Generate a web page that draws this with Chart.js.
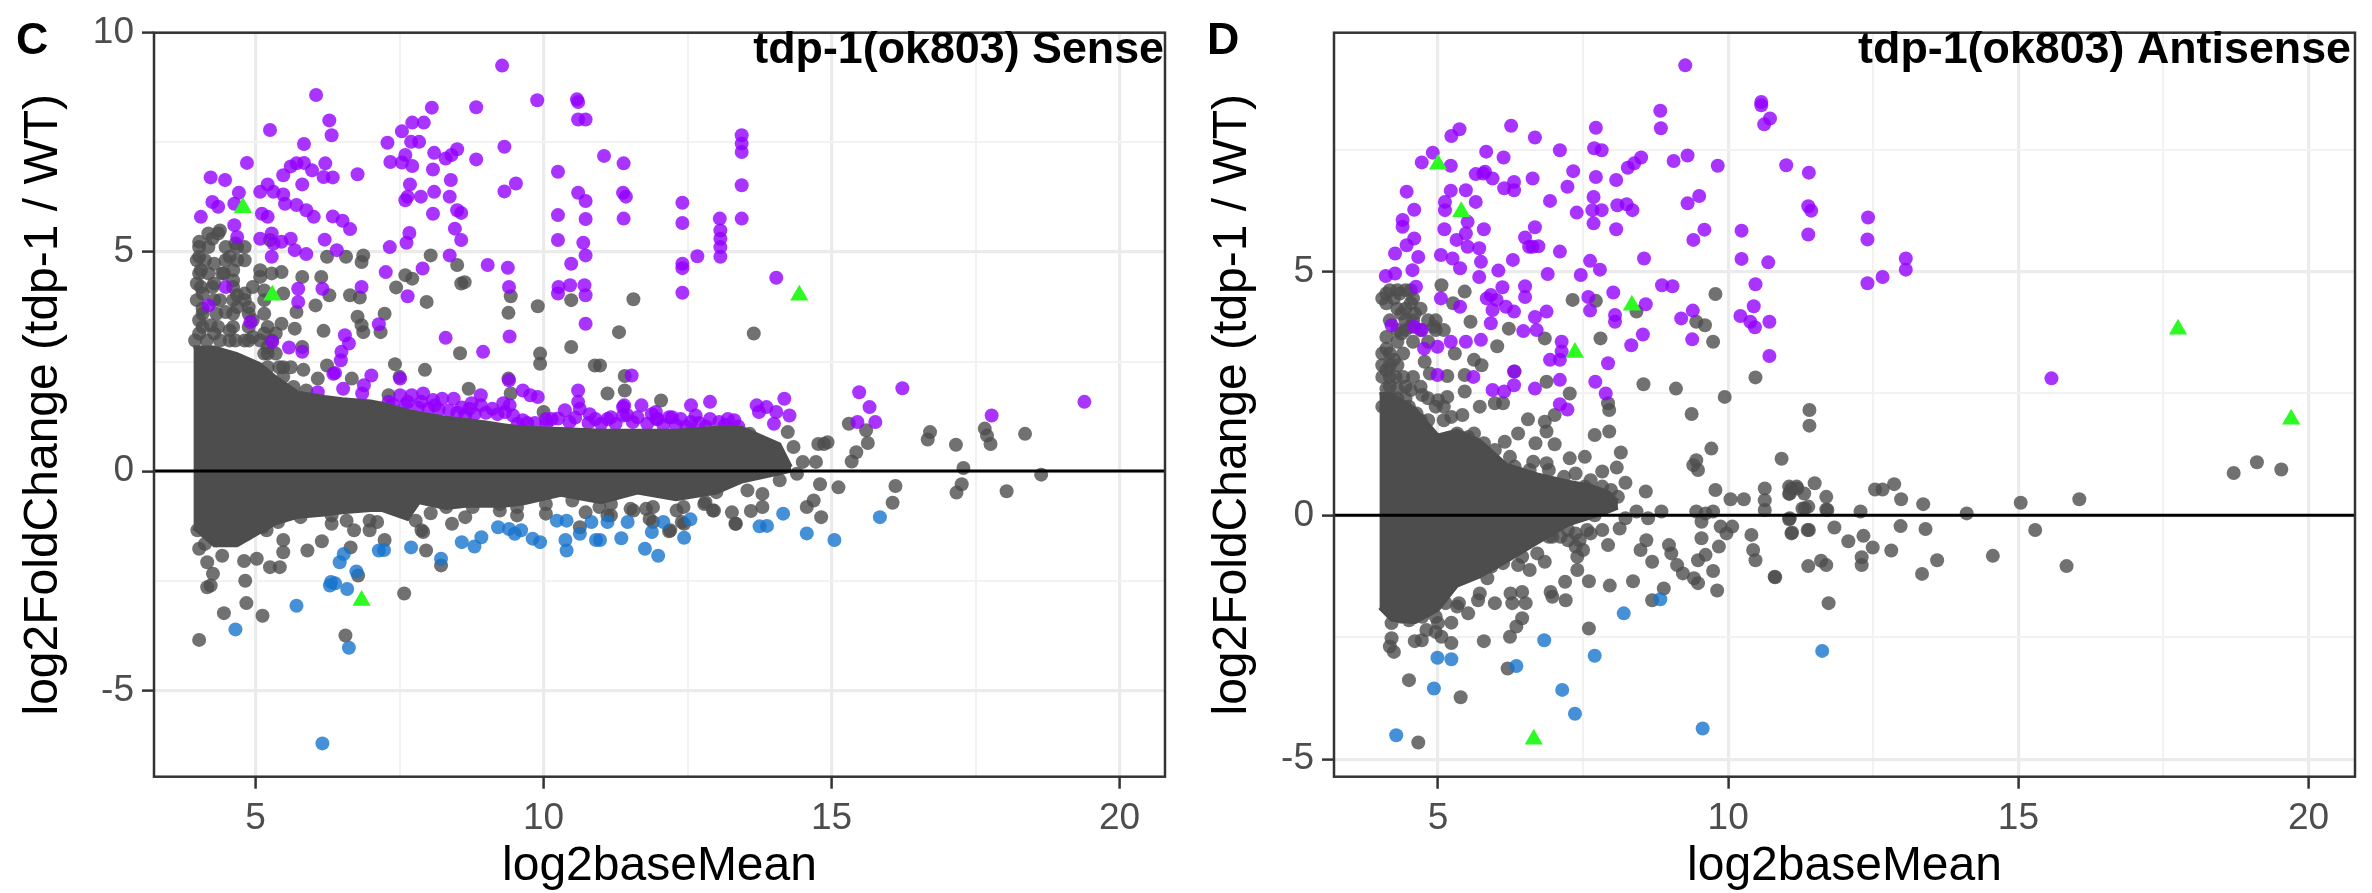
<!DOCTYPE html>
<html lang="en">
<head>
  <meta charset="UTF-8">
  <title>tdp-1(ok803) MA plots</title>
  <script src="https://cdn.jsdelivr.net/npm/chart.js"></script>
  <style>
    body { margin: 0; background: #fff; }
    #panelC, #panelD { position: absolute; top: 0; width: 1186px; height: 893px; }
    #panelC { left: 0; }
    #panelD { left: 1186px; }
  </style>
</head>
<body>
  <div id="panelC"><canvas id="senseChart" width="1186" height="893"></canvas></div>
  <div id="panelD"><canvas id="antisenseChart" width="1186" height="893"></canvas></div>

  <script>
    // all values are [log2baseMean, log2FoldChange]

    // panel C, purple points
    const senseUp = [
      [9.28,9.25],[6.05,8.58],[9.89,8.46],[10.58,8.48],[10.6,8.42],[10.6,8.02],[10.73,8.02],[8.06,8.29],[8.83,8.3],
      [6.28,8.0],[6.32,7.66],[5.25,7.78],[7.54,7.75],[7.72,7.95],[7.92,7.95],[7.29,7.49],[7.7,7.51],[7.84,7.51],
      [9.32,7.4],[5.84,7.46],[8.1,7.26],[8.5,7.34],[8.4,7.21],[8.3,7.13],[8.83,7.11],[7.6,7.21],[7.34,7.05],[7.54,7.04],
      [7.72,6.96],[8.08,6.88],[10.25,6.83],[4.85,7.03],[5.71,7.02],[5.84,7.03],[6.21,7.02],[5.61,6.95],[5.98,6.86],
      [6.77,6.77],[6.34,6.7],[6.18,6.71],[5.48,6.75],[4.22,6.7],[4.47,6.64],[5.81,6.54],[5.21,6.54],[8.39,6.64],
      [9.52,6.56],[9.32,6.38],[7.68,6.54],[7.64,6.26],[7.87,6.26],[8.1,6.37],[7.6,6.18],[8.37,6.26],[10.6,6.35],[10.73,6.16],
      [4.71,6.35],[5.08,6.37],[5.31,6.37],[5.48,6.31],[5.51,6.1],[4.25,6.14],[4.35,6.03],[4.63,6.1],[5.71,6.07],[5.88,5.95],
      [6.01,5.8],[5.11,5.87],[5.21,5.8],[4.05,5.8],[6.34,5.81],[6.51,5.71],[6.64,5.52],[8.5,5.95],[8.57,5.89],[8.08,5.87],
      [10.25,5.84],[10.73,5.75],[8.46,5.53],[8.57,5.27],[7.67,5.43],[7.62,5.21],[10.25,5.27],[10.69,5.21],[10.73,4.92],
      [4.63,5.61],[4.68,5.34],[5.08,5.3],[5.28,5.42],[5.31,5.19],[5.45,5.23],[5.61,5.3],[5.28,4.89],[5.68,5.04],[5.88,4.95],
      [6.2,5.28],[6.41,5.04],[7.33,5.11],[8.37,4.92],[9.03,4.7],[9.38,4.64],[10.48,4.73],[7.9,4.62],[7.26,4.54],[9.4,4.2],
      [7.64,3.99],[10.26,4.2],[10.46,4.24],[10.71,4.24],[10.25,4.05],[10.73,4.01],[6.84,4.2],[5.74,4.16],[5.74,3.86],
      [6.16,4.16],[4.48,4.2],[4.18,3.78],[10.73,3.36],[7.14,3.35],[4.91,3.4],[9.41,3.07],[8.3,3.04],[6.55,3.1],[6.62,2.91],
      [6.49,2.72],[6.48,2.53],[5.29,2.95],[5.58,2.82],[5.81,2.72],[8.95,2.72],[6.38,2.24],
      [6.08,1.8],[6.52,1.88],[6.88,1.96],[7.01,2.18],[6.85,1.77],[6.35,2.22],[7.51,2.11],[7.51,1.73],[7.71,1.73],[7.91,1.77],
      [7.64,1.58],[7.88,1.58],[7.31,1.58],[8.24,1.65],[8.44,1.65],[8.11,1.5],[8.91,1.73],[8.71,1.42],[8.91,1.5],[9.11,1.42],
      [8.64,1.27],[9.41,1.5],[9.47,1.27],[9.64,1.84],[9.9,1.69],[9.77,1.73],[9.64,1.16],[10.04,1.19],[10.37,1.39],[10.14,1.19],
      [10.63,1.42],[10.6,1.84],[10.6,1.58],[10.9,1.19],[11.17,1.23],[11.4,1.5],[11.7,1.5],[11.63,1.23],[11.96,1.19],[12.23,1.23],
      [12.56,1.5],[12.89,1.58],[12.56,1.12],[12.89,1.19],[13.2,1.19],[11.53,2.18],[9.4,2.07],
      [11.38,1.46],[11.11,1.19],[11.38,1.27],[11.98,1.19],[12.18,1.23],[12.38,1.19],[12.64,1.27],[13.31,1.16],
      [13.7,1.5],[13.74,1.35],[13.87,1.46],[14.18,1.65],[14.27,1.27],[14.04,1.35],[14.0,1.08],
      [15.48,1.8],[15.66,1.46],[15.76,1.12],[15.45,1.12],[16.23,1.89],[17.78,1.27],[19.39,1.58],
      [11.05,7.19],[11.39,7.02],[11.38,6.35],[11.43,6.26],[11.39,5.76],[12.41,6.12],[12.41,5.66],[13.06,5.76],[13.07,5.49],
      [13.07,5.3],[13.07,5.11],[13.07,4.89],[12.67,4.9],[12.41,4.73],[12.41,4.63],[12.41,4.07],[13.44,7.66],[13.44,7.47],
      [13.44,7.28],[13.44,6.52],[13.44,5.76],[14.04,4.41],
      [7.38,1.52],[7.6,1.5],[7.82,1.45],[8.0,1.42],[8.18,1.4],[8.36,1.38],[8.5,1.33],[8.58,1.45],[8.8,1.3],[9.0,1.33],[9.2,1.3],
      [9.33,1.35],[9.55,1.08],[9.72,1.1],[9.85,1.1],[10.05,1.08],[10.25,1.2],[10.45,1.12],[10.55,1.22],[10.78,1.1],[11.0,1.08],
      [11.25,1.08],[11.45,1.28],[11.55,1.12],[11.8,1.08],[11.88,1.3],[12.08,1.05],[12.3,1.05],[12.48,1.02],[12.7,1.1],[12.82,1.02],
      [13.05,1.12],[13.15,1.05],[13.38,1.02],[8.08,1.62],[8.75,1.55],[9.3,1.55],[10.8,1.3],[11.95,1.35]
    ];

    // panel C, blue points
    const senseDown = [
      [6.16,-6.21],[6.62,-4.03],[4.65,-3.61],[5.71,-3.07],[6.31,-2.53],[6.38,-2.56],[6.29,-2.61],[6.59,-2.69],[6.75,-2.29],
      [6.46,-2.08],[6.53,-1.89],[7.14,-1.81],[7.23,-1.8],[7.7,-1.74],[8.22,-2.0],[8.58,-1.62],[8.8,-1.72],[8.92,-1.51],
      [9.21,-1.28],[9.4,-1.32],[9.5,-1.43],[9.61,-1.35],[9.81,-1.54],[9.94,-1.62],[10.23,-1.13],[10.4,-1.13],[10.38,-1.57],
      [10.4,-1.81],[10.63,-1.43],[10.83,-1.16],[10.91,-1.57],[11.11,-1.16],[11.46,-1.16],[10.98,-1.57],[11.35,-1.53],
      [11.88,-1.39],[12.08,-1.16],[11.76,-1.77],[11.99,-1.93],[12.44,-1.52],[12.55,-1.1],[13.75,-1.26],[13.88,-1.25],
      [14.16,-0.97],[14.57,-1.42],[15.05,-1.57],[15.84,-1.05]
    ];

    // panel C, green triangles
    const senseMarked = [[4.78,6.01],[5.29,4.01],[6.84,-2.95],[14.44,4.01]];

    // panel C, grey points that stand apart from the solid mass
    const senseOther = [
      [4.02,5.23],[4.25,5.3],[4.38,5.49],[4.65,5.19],[4.81,5.11],[4.02,4.89],[4.05,4.58],[4.55,4.89],[4.61,4.58],[5.08,4.43],
      [5.25,5.27],[5.45,4.54],[5.81,4.43],[6.14,4.43],[6.24,4.89],[6.57,4.89],[6.87,4.92],[6.84,4.77],[8.04,4.92],[8.5,4.7],
      [7.6,4.47],[7.72,4.39],[7.44,4.19],[8.57,4.28],[8.63,4.31],[7.97,3.86],[9.9,3.76],[10.48,3.9],[9.43,3.99],[9.39,3.61],
      [6.64,4.01],[6.81,3.96],[6.28,4.01],[6.04,3.78],[5.71,3.63],[5.48,4.05],[5.15,4.12],[4.68,4.01],[4.08,3.71],[4.48,3.63],
      [4.68,3.74],[4.22,3.33],[4.55,3.21],[5.45,3.36],[5.68,3.25],[6.77,3.52],[6.84,3.33],[6.87,3.17],[7.24,3.59],[7.17,3.17],
      [6.18,3.2],[4.95,3.06],[5.81,2.83],[10.48,2.83],[9.94,2.68],[9.94,2.45],[10.89,2.41],[8.55,2.69],[7.42,2.44],[7.94,2.31],
      [5.83,2.31],[6.24,2.41],[6.08,2.11],[5.66,1.92],[6.67,2.11],[7.5,2.15],[8.7,1.88],[9.39,2.11],[9.43,1.77],[10.0,1.35],
      [7.31,1.73],[5.21,2.83],[11.56,3.92],[11.31,3.17],[13.65,3.14],[10.98,2.41],[11.41,2.17],[11.41,1.84],[11.11,1.77],[12.04,1.61],
      [3.98,4.28],[4.08,4.05],[3.98,3.9],[4.02,3.44],[4.28,4.28],[4.38,3.9],[4.02,3.14],[4.28,3.14],[4.55,2.98],[4.81,2.98],
      [4.95,3.44],[5.15,3.14],[5.35,3.14],[5.21,2.68],[5.48,2.37],[4.81,4.05],[4.28,4.73],[4.45,4.51],[4.81,4.81],[5.08,4.58],
      [4.61,4.35],[4.88,3.74],
      [4.18,5.42],[4.35,5.42],[4.02,5.11],[4.18,5.11],[4.48,5.11],[4.68,5.11],[3.98,4.81],[4.12,4.81],[4.48,4.81],[4.68,4.81],
      [4.02,4.51],[4.18,4.51],[4.42,4.51],[5.28,4.51],[4.05,4.2],[4.25,4.2],[4.61,4.2],[4.95,4.2],[4.28,3.9],[4.61,3.9],[4.81,3.9],
      [5.15,3.9],[4.08,3.59],[4.32,3.59],[4.61,3.59],[4.88,3.59],[5.15,3.59],[4.08,3.29],[4.35,3.29],[4.61,3.29],[4.88,3.29],[5.21,3.29],
      [3.95,2.98],[4.15,2.98],[4.38,2.98],[4.65,2.98],[4.88,2.98],[5.08,2.98],[5.28,2.98],[5.15,2.68],[5.35,2.68],[5.21,2.37],
      [5.41,2.37],[5.61,2.37],[5.48,2.15],[5.48,1.84],[5.88,1.84],
      [15.3,1.08],[15.6,0.93],[15.63,0.64],[15.43,0.43],[15.35,0.22],[16.71,0.89],[16.67,0.72],[17.16,0.6],[17.66,0.97],[17.7,0.81],
      [17.76,0.62],[18.36,0.85],[17.29,0.07],[18.64,-0.08],[17.26,-0.3],[17.17,-0.49],[18.04,-0.46],[16.11,-0.34],[16.06,-0.72],
      [14.8,-0.3],[15.12,-0.37],[14.82,-1.05],[14.57,-0.82],[14.69,-0.67],[14.87,0.62],[14.77,0.62],[14.93,0.66],[14.73,0.21],
      [14.5,0.21],[14.34,0.55],[14.24,0.89],[13.58,0.85],[14.1,-0.21],[14.4,-0.06],[13.8,-0.52],[13.54,-0.44],[13.8,-0.82],[13.6,-0.91],
      [13.34,-1.2],[13.27,-0.94],[12.94,-0.9],[12.81,-0.71],[13.0,-0.48],[12.44,-1.2],[12.18,-1.37],[12.31,-0.9],[11.84,-1.09],
      [11.51,-0.86],[11.11,-1.01],[11.78,-0.86],
      [4.02,-1.77],[4.16,-2.08],[4.26,-2.34],[4.22,-2.61],[4.16,-2.65],[4.42,-1.93],[4.8,-2.05],[5.02,-2.0],[5.25,-2.19],[5.42,-2.19],
      [5.48,-1.57],[5.48,-1.85],[4.82,-2.5],[4.84,-3.01],[4.45,-3.24],[5.12,-3.3],[5.9,-1.81],[6.15,-1.6],[5.19,-1.35],[6.32,-1.2],
      [7.11,-1.16],[6.65,-1.74],[7.24,-1.57],[6.98,-1.35],[6.78,-2.38],[7.58,-2.79],[7.96,-1.81],[7.91,-1.39],[8.04,-0.96],[8.22,-2.15],
      [8.41,-1.2],[8.64,-1.05],[9.24,-0.9],[9.54,-1.01],[10.04,-0.97],[11.17,-1.01],[10.63,-1.28],[10.73,-0.94],[11.56,-0.9],
      [11.9,-1.16],[12.2,-1.35],[12.4,-1.16],[12.79,-0.75],[12.96,-0.9],[13.33,-1.2],[6.56,-3.75],[4.02,-3.85],
      [3.99,-1.35],[4.12,-1.66],[4.32,-1.58],[4.59,-1.51],[4.85,-1.43],[5.12,-1.28],[5.39,-1.16],[5.78,-1.05],[6.32,-1.01],[6.58,-1.13],
      [6.71,-1.35],[6.98,-1.13],[7.51,-0.9],[7.78,-1.13],[7.88,-1.35],[8.31,-0.82],[8.77,-0.82],[9.24,-0.75],[9.54,-0.82],[10.04,-0.75],
      [10.5,-0.67],[10.97,-0.82],[11.17,-0.75],[11.9,-0.82],[12.43,-0.82]
    ];

    // panel C, outline of the mass where the grey points merge into solid colour
    const senseMassX = [3.92,4.28,4.68,5.08,5.35,5.74,6.2,6.5,7.0,7.2,7.64,7.84,8.3,8.65,9.0,9.3,9.64,10.3,11.0,11.63,12.3,13.0,13.44,14.1,14.3];
    const senseMassTop = [2.83,2.83,2.68,2.45,2.15,1.8,1.7,1.65,1.6,1.55,1.39,1.33,1.23,1.18,1.12,1.06,1.0,0.97,0.93,0.93,0.93,1.0,1.0,0.62,0.1];
    const senseMassBottom = [-1.3,-1.7,-1.7,-1.4,-1.2,-1.05,-1.0,-0.95,-0.9,-0.9,-1.1,-0.72,-0.85,-0.8,-0.8,-0.8,-0.75,-0.55,-0.72,-0.5,-0.65,-0.5,-0.25,-0.06,0.0];

    // panel D, purple points
    const antisenseUp = [
      [9.26,9.23],[10.57,8.48],[10.57,8.41],[10.72,8.14],[10.62,8.02],[8.83,8.3],[8.84,7.94],[6.26,7.99],[5.37,7.92],[5.23,7.78],
      [6.67,7.75],[7.72,7.95],[7.69,7.53],[7.82,7.49],[4.91,7.44],[4.72,7.24],[5.22,7.17],[5.83,7.46],[6.13,7.34],[7.1,7.49],
      [8.5,7.34],[8.38,7.22],[8.27,7.13],[9.06,7.27],[9.3,7.38],[9.82,7.17],[11.0,7.18],[5.65,7.0],[5.81,7.05],[5.94,6.91],[5.78,7.01],
      [6.14,6.71],[6.31,6.84],[6.31,6.67],[6.63,6.91],[7.33,7.06],[7.23,6.74],[7.72,6.94],[8.07,6.88],[4.46,6.64],[4.59,6.27],
      [5.22,6.66],[5.48,6.67],[5.12,6.43],[5.12,6.26],[5.65,6.43],[6.93,6.45],[7.68,6.53],[7.66,6.26],[7.39,6.21],[7.82,6.26],
      [8.09,6.36],[8.25,6.38],[8.35,6.26],[7.68,5.99],[9.5,6.55],[9.3,6.4],[8.07,5.87],[4.39,6.06],[4.39,5.92],[5.11,5.87],[5.79,5.87],
      [5.51,6.02],[5.48,5.78],[6.67,5.91],[6.5,5.7],[6.63,5.51],[6.73,5.52],[6.57,5.51],[9.59,5.86],[9.4,5.65],[10.23,5.84],[4.59,5.68],
      [4.46,5.54],[4.26,5.37],[5.32,5.65],[5.51,5.51],[5.71,5.48],[5.74,5.2],[5.05,5.34],[5.25,5.27],[5.38,5.07],[5.71,4.89],[4.66,5.3],
      [7.1,5.41],[6.29,5.24],[6.04,5.02],[7.62,5.22],[7.79,5.04],[7.46,4.93],[6.89,4.95],[8.55,5.27],[10.23,5.26],[10.69,5.19],[4.1,4.91],
      [4.26,4.96],[4.56,5.03],[4.62,4.69],[8.86,4.72],[9.04,4.7],[10.47,4.74],[6.5,4.7],[6.5,4.48],[6.11,4.68],[5.91,4.52],[6.01,4.42],
      [5.84,4.45],[5.05,4.45],[5.38,4.28],[8.02,4.57],[7.59,4.48],[7.62,4.2],[8.58,4.33],[10.44,4.29],[10.21,4.09],[10.38,3.97],[10.46,3.86],
      [10.71,3.97],[5.94,4.21],[6.17,4.28],[6.31,4.18],[5.91,3.94],[6.87,4.18],[6.67,4.07],[6.47,3.78],[6.7,3.8],[8.05,4.11],[8.05,3.97],
      [9.19,4.04],[9.39,4.2],[8.53,3.71],[8.33,3.49],[9.38,3.61],[4.2,3.9],[4.59,3.87],[4.72,3.8],[7.13,3.56],[7.13,3.36],[6.93,3.19],[7.1,3.19],
      [7.93,3.12],[10.71,3.27],[5.74,3.6],[5.48,3.56],[5.22,3.56],[4.99,3.46],[4.76,3.42],[7.71,2.74],[7.89,2.5],[6.67,2.6],[6.31,2.67],
      [6.14,2.54],[5.94,2.57],[7.1,2.78],[7.1,2.28],[7.23,2.17],[5.61,2.84],[4.99,2.88],[6.31,2.95],
      [11.39,7.03],[11.38,6.34],[11.43,6.25],[11.38,5.76],[12.41,6.11],[12.4,5.66],[13.06,5.27],[13.06,5.04],[12.4,4.76],[12.66,4.89],[15.57,2.81]
    ];

    // panel D, blue points
    const antisenseDown = [
      [4.28,-4.51],[4.93,-3.55],[4.99,-2.92],[5.23,-2.95],[6.35,-3.09],[6.83,-2.56],[7.14,-3.58],[7.36,-4.07],[7.7,-2.88],
      [8.2,-2.01],[8.83,-1.72],[9.56,-4.37],[11.62,-2.78]
    ];

    // panel D, green triangles
    const antisenseMarked = [[5.0,7.2],[5.4,6.23],[8.34,4.31],[7.36,3.34],[6.65,-4.59],[17.75,3.82],[19.7,1.97]];

    // panel D, grey points that stand apart from the solid mass
    const antisenseOther = [
      [4.11,4.55],[4.11,4.35],[4.34,4.55],[4.53,4.62],[4.53,4.35],[4.37,4.14],[4.6,4.14],[4.53,3.87],[4.37,3.73],[4.11,3.66],[4.11,3.42],
      [4.24,3.19],[4.11,2.98],[4.27,2.84],[4.11,2.6],[4.3,2.6],[4.53,2.57],[4.73,2.47],[4.11,2.19],[4.5,2.23],[4.63,2.09],[4.27,2.09],
      [4.17,4.62],[4.3,4.62],[4.44,4.62],[4.04,4.45],[4.24,4.45],[4.57,4.45],[4.3,4.24],[4.44,4.24],[4.7,4.24],[4.17,4.0],[4.44,4.0],
      [4.57,4.0],[4.83,4.0],[4.96,4.0],[4.3,3.8],[4.44,3.8],[4.7,3.8],[4.96,3.8],[5.1,3.8],[4.3,3.56],[4.57,3.56],[4.83,3.56],[4.04,3.32],
      [4.17,3.32],[4.4,3.32],[4.04,3.08],[4.17,3.08],[4.3,3.08],[4.04,2.84],[4.17,2.84],[4.4,2.84],[4.57,2.84],[4.17,2.64],[4.44,2.64],
      [4.7,2.64],[4.3,2.4],[4.44,2.4],[4.83,2.4],[4.04,2.23],[4.3,2.23],[4.96,2.23],[5.1,2.23],[4.44,1.95],[4.7,1.95],[4.83,1.95],[5.1,1.95],
      [5.52,1.61],[5.79,1.48],[5.98,1.34],[5.39,1.48],[6.32,1.0],[6.58,0.93],[6.91,0.93],[7.17,0.79],[7.37,0.86],[7.63,0.72],[7.83,0.59],[7.9,0.38],[8.1,0.38],
      [7.24,-0.3],[7.37,-0.37],[7.11,-0.44],[7.57,-0.3],[7.83,-0.3],[7.44,-0.51],[7.63,-0.37],[7.24,-0.51],[6.97,-0.44],[6.71,-0.78],[6.45,-0.85],
      [6.12,-0.98],[5.92,-1.05],[5.52,-1.19],[5.26,-1.33],[5.13,-1.46],[4.2,-1.94],[4.37,-2.08],[4.6,-2.08],[4.8,-2.35],[4.93,-1.8],[5.13,-1.8],[5.0,-2.21],
      [5.06,4.72],[5.46,4.59],[5.26,4.35],[5.56,3.97],[4.93,3.87],[5.29,3.32],[5.62,3.19],[5.75,3.08],[4.77,3.15],[4.86,2.91],[5.16,2.86],
      [5.46,2.88],[6.02,3.47],[6.22,3.83],[6.84,3.63],[6.32,2.95],[6.87,2.74],[5.46,2.54],[5.16,2.43],[5.0,2.36],[5.72,2.23],[5.98,2.3],
      [6.12,2.3],[5.42,2.06],[5.23,2.02],[7.27,2.5],[7.01,2.06],[6.55,1.97],[6.84,1.92],[6.87,1.72],[6.38,1.68],[6.15,1.51],[6.68,1.48],
      [7.01,1.46],[5.62,1.68],[5.33,1.68],[6.24,1.2],[6.64,1.1],[6.87,1.07],[7.27,1.17],[7.53,1.2],[7.7,1.65],[7.95,1.72],[8.15,1.29],
      [8.08,0.98],[7.83,0.9],[8.23,0.67],[8.58,0.49],[7.98,0.52],[7.32,4.42],[7.72,4.4],[8.42,4.18],[7.8,3.63],[8.54,2.69],[9.1,2.6],
      [9.94,2.43],[9.37,2.08],[9.78,4.54],[9.45,3.97],[9.6,3.9],[9.74,3.56],[10.47,2.83],[9.71,1.37],[9.45,1.13],[9.4,1.03],[9.48,0.93],
      [10.92,1.16],[11.4,2.16],[11.4,1.84],[7.95,2.16],[7.93,2.3],[9.78,0.52],[10.04,0.33],[10.27,0.33],[10.63,0.55],[10.63,0.31],[10.63,0.11],
      [11.09,0.55],[11.19,0.55],[11.49,0.66],[11.69,0.38],[11.69,0.12],[11.32,0.14],[11.06,0.45],[12.28,0.08],
      [11.05,0.59],[11.18,0.59],[11.31,0.45],[11.05,0.44],[11.38,0.18],[11.28,0.14],[11.71,0.11],[12.53,0.53],[12.66,0.53],[12.86,0.64],
      [12.98,0.33],[13.36,0.23],[14.11,0.04],[15.04,0.26],[16.05,0.33],[18.71,0.87],[19.11,1.09],[19.53,0.94],[11.05,-0.08],[11.1,-0.35],
      [11.37,-0.3],[11.83,-0.25],[12.97,-0.22],[13.4,-0.28],[12.07,-0.53],[12.33,-0.42],[12.49,-0.66],[12.81,-0.72],[12.3,-0.86],[12.3,-1.02],
      [13.6,-0.92],[13.34,-1.2],[14.56,-0.83],[15.29,-0.3],[15.83,-1.04],[11.38,-1.04],[11.6,-0.93],[11.69,-1.02],[10.81,-1.27],[11.73,-1.8],
      [8.42,0.08],[8.85,0.08],[9.45,0.08],[9.61,0.04],[9.74,0.08],[8.62,-0.06],[9.54,-0.13],[8.13,-0.27],[8.23,-0.06],[9.87,-0.23],[10.07,-0.23],
      [9.97,-0.37],[10.4,-0.4],[11.06,-0.06],[11.09,-0.37],[11.39,-0.3],[10.43,-0.71],[10.47,-0.92],[10.8,-1.26],[9.54,-0.47],[9.84,-0.64],
      [9.61,-0.81],[9.48,-0.92],[9.74,-1.14],[9.81,-1.54],[9.48,-1.39],[9.41,-1.29],[8.98,-0.61],[9.02,-0.78],[9.12,-1.02],[9.22,-1.19],
      [8.59,-0.51],[8.49,-0.71],[8.69,-0.95],[8.36,-1.35],[7.96,-1.44],[7.6,-1.35],[8.89,-1.5],[8.69,-1.74],[7.19,-1.36],[7.2,-1.74],[6.94,-1.57],
      [6.97,-1.67],[6.45,-1.57],[6.25,-1.6],[6.28,-1.8],[6.51,-1.8],[5.98,-1.8],[5.72,-1.6],[5.69,-1.74],[5.85,-1.29],[5.36,-1.8],[5.33,-1.87],
      [5.52,-2.01],[5.23,-2.2],[4.96,-2.39],[5.06,-2.49],[5.23,-2.62],[5.79,-2.58],[6.24,-2.49],[6.35,-2.28],[6.45,-2.11],[7.6,-2.32],[4.2,-2.52],
      [4.17,-2.69],[4.24,-2.8],[4.6,-2.58],[4.72,-2.56],[4.2,-2.21],[4.5,-2.15],[4.73,-2.08],[4.96,-2.08],[4.14,-1.84],[4.5,-3.38],[5.39,-3.73],
      [6.2,-3.14],[7.5,-0.71],[7.37,-0.64],[7.93,-0.61],[7.4,-0.85],[7.4,-1.12],[6.91,-0.44],[6.84,-0.95],[6.58,-1.12],[6.38,-1.02],[7.7,0.0],
      [4.66,-4.66],[7.37,0.38],[7.53,0.59],[7.83,0.38],[7.6,0.25]
    ];

    // panel D, outline of the solid mass
    const antisenseMassX = [3.99,4.2,4.6,5.0,5.33,5.72,6.18,6.71,7.24,7.63,7.9,8.1];
    const antisenseMassTop = [2.5,2.5,2.2,1.65,1.75,1.54,1.05,0.85,0.7,0.62,0.5,0.3];
    const antisenseMassBottom = [-1.9,-2.15,-2.2,-1.95,-1.45,-1.26,-0.95,-0.57,-0.2,-0.05,0.05,0.15];

    const xTitle = 'log2baseMean';
    const yTitle = 'log2FoldChange (tdp-1 / WT)';

    const GREY = 'rgba(77,77,77,0.8)';
    const SOLID_GREY = '#4d4d4d';
    const PURPLE = 'rgba(147,0,255,0.8)';
    const BLUE = 'rgba(24,116,205,0.8)';
    const GREEN = 'rgb(45,250,35)';

    const toPoints = pairs => pairs.map(p => ({ x: p[0], y: p[1] }));
    const dots = (pairs, color, order) => ({
      data: toPoints(pairs), backgroundColor: color, borderWidth: 0,
      pointRadius: 7, pointHoverRadius: 7, order: order
    });
    const triangles = (pairs, color, order) => ({
      data: toPoints(pairs), backgroundColor: color, borderWidth: 0,
      pointStyle: 'triangle', pointRadius: 10.5, pointHoverRadius: 10.5, order: order
    });
    const massEdge = (xs, ys, fill) => ({
      data: xs.map((x, i) => ({ x: x, y: ys[i] })), showLine: true, tension: 0, fill: fill,
      borderColor: SOLID_GREY, backgroundColor: SOLID_GREY, borderWidth: 3, pointRadius: 0, order: 2
    });

    // frame, panel letter and the title sitting inside the frame
    const panelText = {
      id: 'panelText',
      afterDatasetsDraw(chart, args, opts) {
        const { ctx, chartArea: a } = chart;
        ctx.save();
        ctx.strokeStyle = '#333';
        ctx.lineWidth = 2.5;
        ctx.strokeRect(a.left, a.top, a.right - a.left, a.bottom - a.top);
        ctx.fillStyle = '#000';
        ctx.font = 'bold 44.8px "Liberation Sans"';
        ctx.textAlign = 'right';
        ctx.fillText(opts.title, a.right - opts.titleInset, 63);
        ctx.textAlign = 'left';
        ctx.fillText(opts.letter, opts.letterX, 54);
        ctx.restore();
      }
    };

    const isMajor = v => Math.abs(v / 5 - Math.round(v / 5)) < 1e-6;
    const axis = (min, max, title, extra) => Object.assign({
      type: 'linear', min: min, max: max,
      border: { display: false },
      grid: {
        color: c => isMajor(c.tick.value) ? '#ebebeb' : '#f2f2f2',
        lineWidth: c => isMajor(c.tick.value) ? 3.2 : 2,
        tickColor: c => isMajor(c.tick.value) ? '#333' : 'rgba(0,0,0,0)',
        tickLength: 12, tickWidth: 2.5
      },
      ticks: {
        stepSize: 2.5, includeBounds: false, autoSkip: false, maxRotation: 0, padding: 8,
        color: '#4d4d4d', font: { family: '"Liberation Sans"', size: 37 },
        callback: v => isMajor(v) ? String(v) : ''
      },
      title: {
        display: true, text: title, color: '#000',
        font: { family: '"Liberation Sans"', size: 48, lineHeight: 1 }, padding: 0
      }
    }, extra);

    function drawPanel(id, p) {
      new Chart(document.getElementById(id), {
        type: 'scatter',
        data: {
          datasets: [
            { data: [{ x: p.xRange[0], y: 0 }, { x: p.xRange[1], y: 0 }], showLine: true, borderColor: '#000', borderWidth: 3, pointRadius: 0, order: 0 },
            triangles(p.marked, GREEN, 1),
            massEdge(p.massX, p.massTop, '+1'),
            massEdge(p.massX, p.massBottom, false),
            dots(p.up, PURPLE, 3),
            dots(p.down, BLUE, 3),
            dots(p.other, GREY, 4)
          ]
        },
        options: {
          responsive: false,
          animation: false,
          layout: { padding: { left: p.padLeft, top: 32.7, right: p.padRight, bottom: 2 } },
          plugins: {
            legend: { display: false },
            tooltip: { enabled: false },
            panelText: { title: p.title, titleInset: p.titleInset, letter: p.letter, letterX: p.letterX }
          },
          scales: {
            x: axis(p.xRange[0], p.xRange[1], xTitle, { afterFit: s => { s.height = 893 - 776.7 - 2; } }),
            y: axis(p.yRange[0], p.yRange[1], yTitle, { afterFit: s => { s.width = p.areaLeft - p.padLeft; } })
          }
        },
        plugins: [panelText]
      });
    }

    drawPanel('senseChart', {
      up: senseUp, down: senseDown, marked: senseMarked, other: senseOther,
      massX: senseMassX, massTop: senseMassTop, massBottom: senseMassBottom,
      xRange: [3.236, 20.79], yRange: [-6.97, 10],
      title: 'tdp-1(ok803) Sense', titleInset: 1, letter: 'C', letterX: 16,
      padLeft: 20, padRight: 1186 - 1165, areaLeft: 154
    });
    drawPanel('antisenseChart', {
      up: antisenseUp, down: antisenseDown, marked: antisenseMarked, other: antisenseOther,
      massX: antisenseMassX, massTop: antisenseMassTop, massBottom: antisenseMassBottom,
      xRange: [3.208, 20.8], yRange: [-5.36, 9.9],
      title: 'tdp-1(ok803) Antisense', titleInset: 4, letter: 'D', letterX: 21,
      padLeft: 23, padRight: 2372 - 2355, areaLeft: 1334 - 1186
    });
  </script>
</body>
</html>
